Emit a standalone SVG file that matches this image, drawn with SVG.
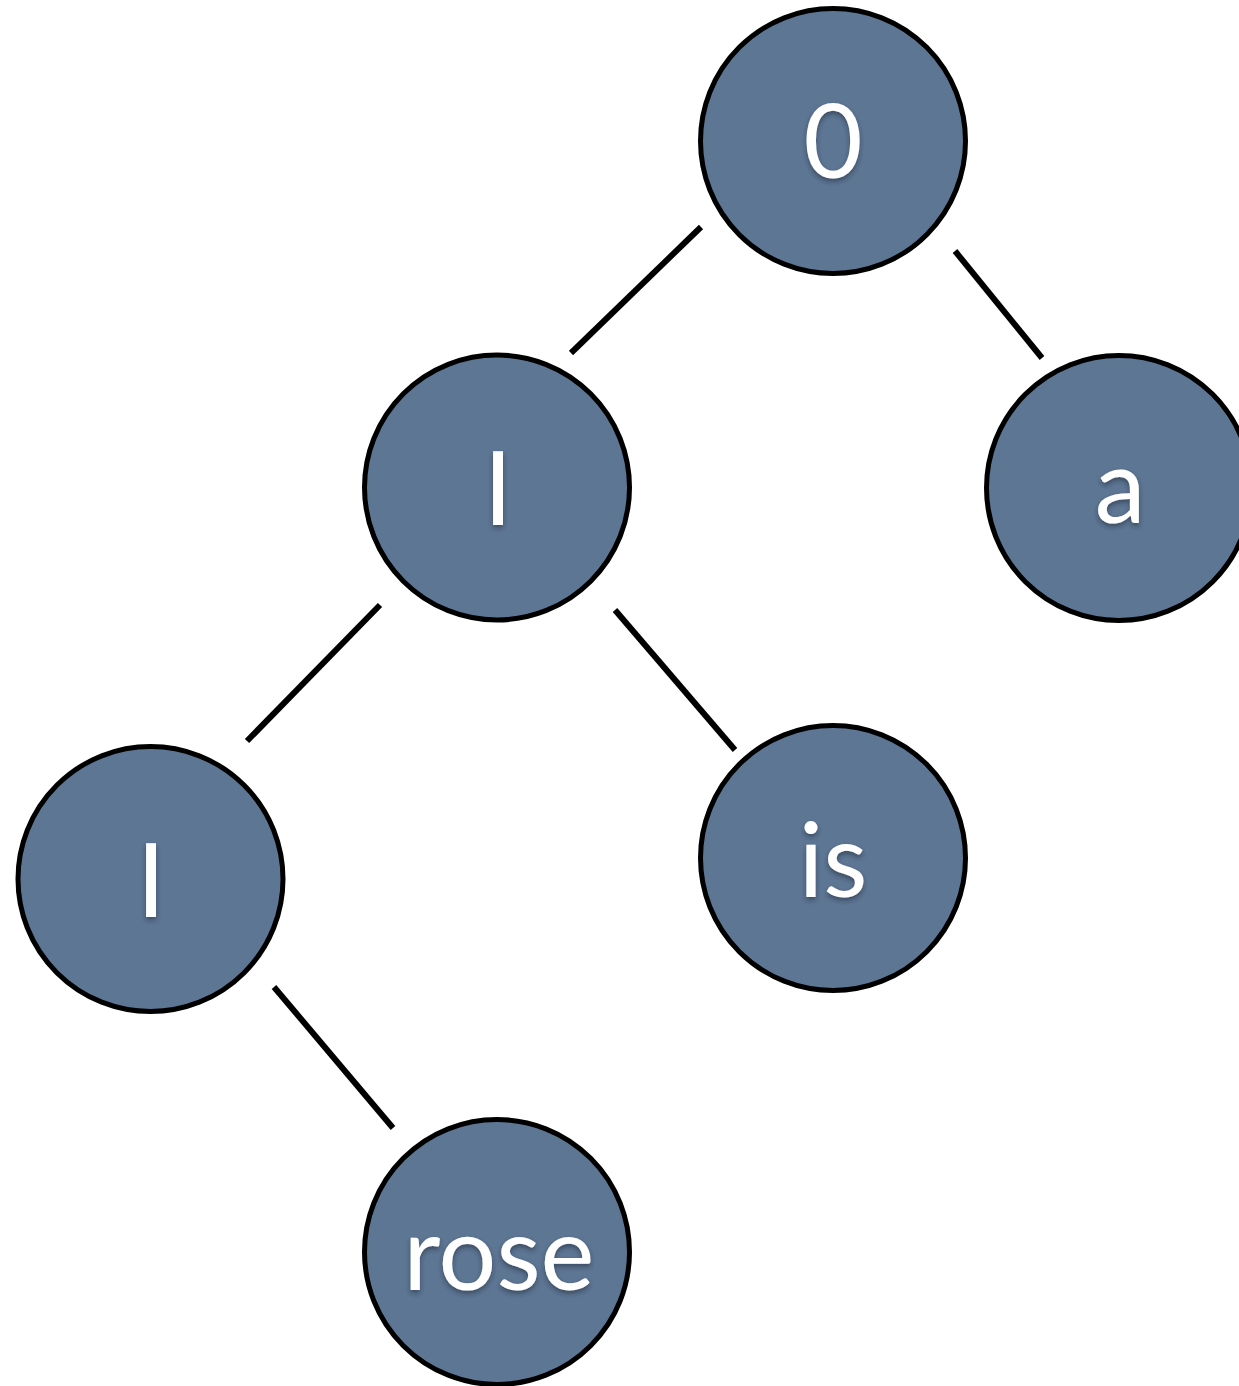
<svg xmlns="http://www.w3.org/2000/svg" width="1239" height="1386" viewBox="0 0 1239 1386">
  <defs>
    <filter id="grain" x="0" y="0" width="100%" height="100%">
      <feTurbulence type="fractalNoise" baseFrequency="0.35" numOctaves="2" seed="3" result="noise"/>
      <feColorMatrix in="noise" type="matrix" values="0 0 0 0 0.36  0 0 0 0 0.46  0 0 0 0 0.57  0 0 0 0.18 0" result="tint"/>
      <feComposite in="tint" in2="SourceGraphic" operator="in" result="tex"/>
      <feMerge><feMergeNode in="SourceGraphic"/><feMergeNode in="tex"/></feMerge>
    </filter>
    <filter id="shadow" x="-20%" y="-20%" width="140%" height="140%">
      <feDropShadow dx="0" dy="3" stdDeviation="2.5" flood-color="#1e2a38" flood-opacity="0.55"/>
    </filter>
  </defs>
  <style>
    .node circle { fill: #5d7694; stroke: #000; stroke-width: 5; }
    .node text { fill: #ffffff; font-family: Lato, "Open Sans", "Liberation Sans", sans-serif; font-size: 102px; text-anchor: middle; filter: url(#shadow); }
    .edges line { stroke: #000; stroke-width: 6; }
  </style>
  <rect width="1239" height="1386" fill="#ffffff"/>

  <!-- tree edges -->
  <g id="edges" class="edges">
    <line x1="701" y1="227" x2="571" y2="353"/>
    <line x1="955" y1="251" x2="1042" y2="358"/>
    <line x1="380" y1="605" x2="247" y2="741"/>
    <line x1="615" y1="610" x2="735" y2="750"/>
    <line x1="274" y1="987" x2="393" y2="1128"/>
  </g>

  <g id="node-0" class="node">
    <circle cx="833" cy="141" r="132.5"/>
    <text x="833" y="178">0</text>
  </g>
  <g id="node-mid" class="node">
    <circle cx="497" cy="487.5" r="132.5"/>
    <text x="498" y="525">I</text>
  </g>
  <g id="node-a" class="node">
    <circle cx="1119" cy="488" r="132.5"/>
    <text x="1120" y="523">a</text>
  </g>
  <g id="node-left" class="node">
    <circle cx="150.5" cy="879" r="132.5"/>
    <text x="151" y="917">I</text>
  </g>
  <g id="node-is" class="node">
    <circle cx="833" cy="858" r="132.5"/>
    <text x="833" y="897">is</text>
  </g>
  <g id="node-rose" class="node">
    <circle cx="497" cy="1252" r="132.5"/>
    <text x="499" y="1290">rose</text>
  </g>
</svg>
